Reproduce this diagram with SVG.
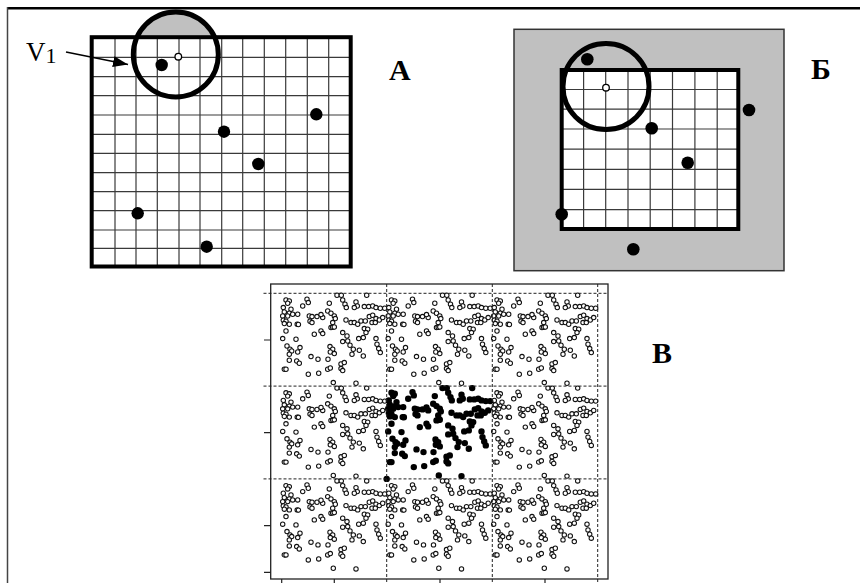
<svg xmlns="http://www.w3.org/2000/svg" width="860" height="583" viewBox="0 0 860 583">
<style>
.grid{stroke:#3a3a3a;stroke-width:1.2;fill:none}
.border{stroke:#000;stroke-width:4;fill:none}
.big{stroke:#000;stroke-width:5;fill:none}
.small{stroke:#000;stroke-width:1.3;fill:#fff}
.dot{fill:#000}
.lbl{font-family:"Liberation Serif","Times New Roman",serif;font-weight:bold;font-size:30px;fill:#000}
.v{font-family:"Liberation Serif","Times New Roman",serif;font-size:27px;fill:#000}
.dash{stroke:#222;stroke-width:1;stroke-dasharray:3 2;fill:none}
.tick{stroke:#222;stroke-width:1.2;fill:none}
.open{fill:#fff;stroke:#111;stroke-width:1.05}
.fill{fill:#000;stroke:#000;stroke-width:2}
</style>
<defs>
<marker id="ah" markerWidth="16" markerHeight="12" refX="15" refY="6" orient="auto" markerUnits="userSpaceOnUse">
<path d="M0,0.5 L15,6 L0,11.5 Z" fill="#000"/>
</marker>
<g id="tile">
<circle cx="55.8" cy="2" r="2.2"/><circle cx="60.1" cy="2" r="2.2"/><circle cx="85.5" cy="2" r="2.2"/><circle cx="61.5" cy="6.7" r="2.2"/><circle cx="63.8" cy="11" r="2.2"/><circle cx="65.1" cy="14.3" r="2.2"/><circle cx="4.8" cy="6.7" r="2.2"/><circle cx="8.1" cy="7.7" r="2.2"/><circle cx="6.5" cy="10" r="2.2"/><circle cx="25.8" cy="6" r="2.2"/><circle cx="27.1" cy="9.3" r="2.2"/><circle cx="21.5" cy="12.7" r="2.2"/><circle cx="48.1" cy="10" r="2.2"/><circle cx="74.8" cy="8.7" r="2.2"/><circle cx="76.1" cy="12.7" r="2.2"/><circle cx="73.1" cy="14.3" r="2.2"/><circle cx="83.1" cy="13.3" r="2.2"/><circle cx="87.5" cy="13.3" r="2.2"/><circle cx="91.5" cy="12.7" r="2.2"/><circle cx="94.8" cy="14.3" r="2.2"/><circle cx="99.1" cy="15" r="2.2"/><circle cx="103.5" cy="15" r="2.2"/><circle cx="2.1" cy="14.3" r="2.2"/><circle cx="9.8" cy="16" r="2.2"/><circle cx="3.1" cy="18.7" r="2.2"/><circle cx="8.1" cy="20" r="2.2"/><circle cx="1.5" cy="22.7" r="2.2"/><circle cx="6.5" cy="22.7" r="2.2"/><circle cx="11.5" cy="21" r="2.2"/><circle cx="16.5" cy="21" r="2.2"/><circle cx="46.5" cy="17.7" r="2.2"/><circle cx="49.8" cy="20" r="2.2"/><circle cx="53.1" cy="22.7" r="2.2"/><circle cx="28.1" cy="22.7" r="2.2"/><circle cx="30.8" cy="23.3" r="2.2"/><circle cx="35.8" cy="23.3" r="2.2"/><circle cx="41.5" cy="24.3" r="2.2"/><circle cx="39.8" cy="21.3" r="2.2"/><circle cx="2.1" cy="27" r="2.2"/><circle cx="4.8" cy="28" r="2.2"/><circle cx="3.1" cy="30.3" r="2.2"/><circle cx="8.1" cy="31" r="2.2"/><circle cx="16" cy="31" r="2.2"/><circle cx="17.2" cy="31.2" r="2.2"/><circle cx="28.8" cy="28" r="2.2"/><circle cx="30.8" cy="29.3" r="2.2"/><circle cx="54.1" cy="25.3" r="2.2"/><circle cx="51.5" cy="29.3" r="2.2"/><circle cx="64.8" cy="26.7" r="2.2"/><circle cx="69.8" cy="29.3" r="2.2"/><circle cx="73.1" cy="29.3" r="2.2"/><circle cx="76.5" cy="31" r="2.2"/><circle cx="79.8" cy="27.7" r="2.2"/><circle cx="84.1" cy="27.7" r="2.2"/><circle cx="88.1" cy="23.3" r="2.2"/><circle cx="91.5" cy="22" r="2.2"/><circle cx="94.8" cy="25.3" r="2.2"/><circle cx="98.1" cy="26.7" r="2.2"/><circle cx="101.5" cy="24.3" r="2.2"/><circle cx="90.8" cy="29.3" r="2.2"/><circle cx="94.1" cy="29.3" r="2.2"/><circle cx="49.8" cy="34.3" r="2.2"/><circle cx="51.5" cy="34" r="2.2"/><circle cx="53.1" cy="33.7" r="2.2"/><circle cx="83.1" cy="35.3" r="2.2"/><circle cx="86.5" cy="36" r="2.2"/><circle cx="4.8" cy="37.7" r="2.2"/><circle cx="1.5" cy="45.3" r="2.2"/><circle cx="39.8" cy="37.7" r="2.2"/><circle cx="41.5" cy="40.3" r="2.2"/><circle cx="33.1" cy="41" r="2.2"/><circle cx="14.8" cy="46" r="2.2"/><circle cx="61.5" cy="39.3" r="2.2"/><circle cx="65.8" cy="42.7" r="2.2"/><circle cx="61.5" cy="48.3" r="2.2"/><circle cx="66.5" cy="47.7" r="2.2"/><circle cx="68.8" cy="52" r="2.2"/><circle cx="77.5" cy="45.3" r="2.2"/><circle cx="82.1" cy="44.3" r="2.2"/><circle cx="84.8" cy="39.3" r="2.2"/><circle cx="94.8" cy="45.3" r="2.2"/><circle cx="5.8" cy="52.7" r="2.2"/><circle cx="8.8" cy="56" r="2.2"/><circle cx="10.5" cy="57.7" r="2.2"/><circle cx="8.1" cy="61" r="2.2"/><circle cx="18.8" cy="54.3" r="2.2"/><circle cx="16.5" cy="58.7" r="2.2"/><circle cx="48.8" cy="53.3" r="2.2"/><circle cx="51.5" cy="56" r="2.2"/><circle cx="49.1" cy="58.7" r="2.2"/><circle cx="53.1" cy="60.3" r="2.2"/><circle cx="72.1" cy="56" r="2.2"/><circle cx="70.8" cy="61" r="2.2"/><circle cx="78.1" cy="57" r="2.2"/><circle cx="82.1" cy="62.7" r="2.2"/><circle cx="95.8" cy="51" r="2.2"/><circle cx="97.5" cy="55.3" r="2.2"/><circle cx="99.1" cy="59.3" r="2.2"/><circle cx="8.1" cy="67" r="2.2"/><circle cx="15.5" cy="67.7" r="2.2"/><circle cx="18.1" cy="70" r="2.2"/><circle cx="29.8" cy="63.3" r="2.2"/><circle cx="36.8" cy="66" r="2.2"/><circle cx="46.8" cy="66" r="2.2"/><circle cx="59.8" cy="70.7" r="2.2"/><circle cx="63.1" cy="69.3" r="2.2"/><circle cx="3.1" cy="76" r="2.2"/><circle cx="4.8" cy="76" r="2.2"/><circle cx="46.5" cy="76" r="2.2"/><circle cx="49.1" cy="74.7" r="2.2"/><circle cx="59.8" cy="75.3" r="2.2"/><circle cx="61.5" cy="77.3" r="2.2"/><circle cx="27.1" cy="81" r="2.2"/><circle cx="37.5" cy="80" r="2.2"/><circle cx="52.1" cy="89.3" r="2.2"/><circle cx="74.8" cy="90" r="2.2"/>
</g>
</defs>

<g id="outer-frame">
<line x1="7" y1="8.3" x2="860" y2="8.3" stroke="#000" stroke-width="2.5"/>
<line x1="7.5" y1="7" x2="7.5" y2="583" stroke="#444" stroke-width="1.5"/>
</g>

<g id="panel-a">
<path d="M136.2,37 A42.5,42.5 0 0 1 215.4,37 Z" fill="#c0c0c0"/>
<g class="grid">
<path d="M115,37V266.5M136,37V266.5M157.3,37V266.5M179,37V266.5M200,37V266.5M221.7,37V266.5M242.7,37V266.5M264.3,37V266.5M285.7,37V266.5M307.3,37V266.5M328.7,37V266.5"/>
<path d="M91.7,57.3H350.7M91.7,76.7H350.7M91.7,95.7H350.7M91.7,115H350.7M91.7,134.3H350.7M91.7,153.3H350.7M91.7,172.7H350.7M91.7,191.7H350.7M91.7,210.7H350.7M91.7,230H350.7M91.7,248.3H350.7"/>
</g>
<rect class="border" x="91.7" y="37.2" width="259" height="229.3"/>
<circle class="big" cx="175.8" cy="54.5" r="42.5"/>
<circle class="small" cx="178.3" cy="56.7" r="3.3"/>
<circle class="dot" cx="161.7" cy="65" r="6.2"/>
<circle class="dot" cx="316.3" cy="114.3" r="6.2"/>
<circle class="dot" cx="224" cy="131.7" r="6.2"/>
<circle class="dot" cx="258.3" cy="164" r="6.2"/>
<circle class="dot" cx="137.7" cy="213.3" r="6.2"/>
<circle class="dot" cx="206.7" cy="246.7" r="6.2"/>
<text class="lbl" x="389" y="80">А</text>
</g>

<g id="label-v1">
<text class="v" x="26" y="61">V<tspan font-size="22" dy="2">1</tspan></text>
</g>

<g id="connectors">
<line x1="66" y1="52" x2="128" y2="64.5" stroke="#000" stroke-width="1.6" marker-end="url(#ah)"/>
</g>

<g id="panel-b">
<rect x="514" y="29.3" width="270" height="241.4" fill="#c0c0c0" stroke="#333" stroke-width="1.5"/>
<rect x="561.7" y="70" width="176.6" height="159" fill="#fff"/>
<g class="grid">
<path d="M583.6,70V229M605.7,70V229M628,70V229M650.2,70V229M672.5,70V229M694.9,70V229M717.2,70V229"/>
<path d="M561.7,89.5H738.3M561.7,109.2H738.3M561.7,129H738.3M561.7,149.2H738.3M561.7,169.3H738.3M561.7,189.4H738.3M561.7,209.6H738.3"/>
</g>
<rect class="border" x="561.7" y="70" width="176.6" height="159"/>
<circle class="big" cx="606" cy="86.5" r="43"/>
<circle class="small" cx="606" cy="87.7" r="3.3"/>
<circle class="dot" cx="587.3" cy="59.3" r="6.3"/>
<circle class="dot" cx="749" cy="110" r="6.3"/>
<circle class="dot" cx="651.7" cy="128.3" r="6.3"/>
<circle class="dot" cx="687.7" cy="162.7" r="6.3"/>
<circle class="dot" cx="561.7" cy="214.3" r="6.3"/>
<circle class="dot" cx="633.3" cy="249.3" r="6.3"/>
<text class="lbl" x="811" y="79">Б</text>
</g>

<g id="panel-c">
<rect x="270.7" y="284" width="337.3" height="295" fill="#fff" stroke="#222" stroke-width="1.3"/>
<use href="#tile" x="281.2" y="293.3" class="open"/>
<use href="#tile" x="386.7" y="293.3" class="open"/>
<use href="#tile" x="492.2" y="293.3" class="open"/>
<use href="#tile" x="281.2" y="386.1" class="open"/>
<use href="#tile" x="492.2" y="386.1" class="open"/>
<use href="#tile" x="281.2" y="478.9" class="open"/>
<use href="#tile" x="386.7" y="478.9" class="open"/>
<use href="#tile" x="492.2" y="478.9" class="open"/>
<use href="#tile" x="386.7" y="386.1" class="fill"/>
<circle cx="386.7" cy="478.9" r="3.2" fill="#000"/>
<path class="dash" d="M263.5,293.3H608M263.5,386.1H608M263.5,478.9H608"/>
<path class="dash" d="M386.7,284V583M492.3,284V583M597.7,284V583"/>
<path class="tick" d="M264,340H270.7M264,432.7H270.7M264,525.7H270.7M264,572.3H270.7"/>
<path class="tick" d="M281.7,579V583M334.3,579V583M440,579V583M545,579V583"/>
<text class="lbl" x="652" y="363">В</text>
</g>
</svg>
